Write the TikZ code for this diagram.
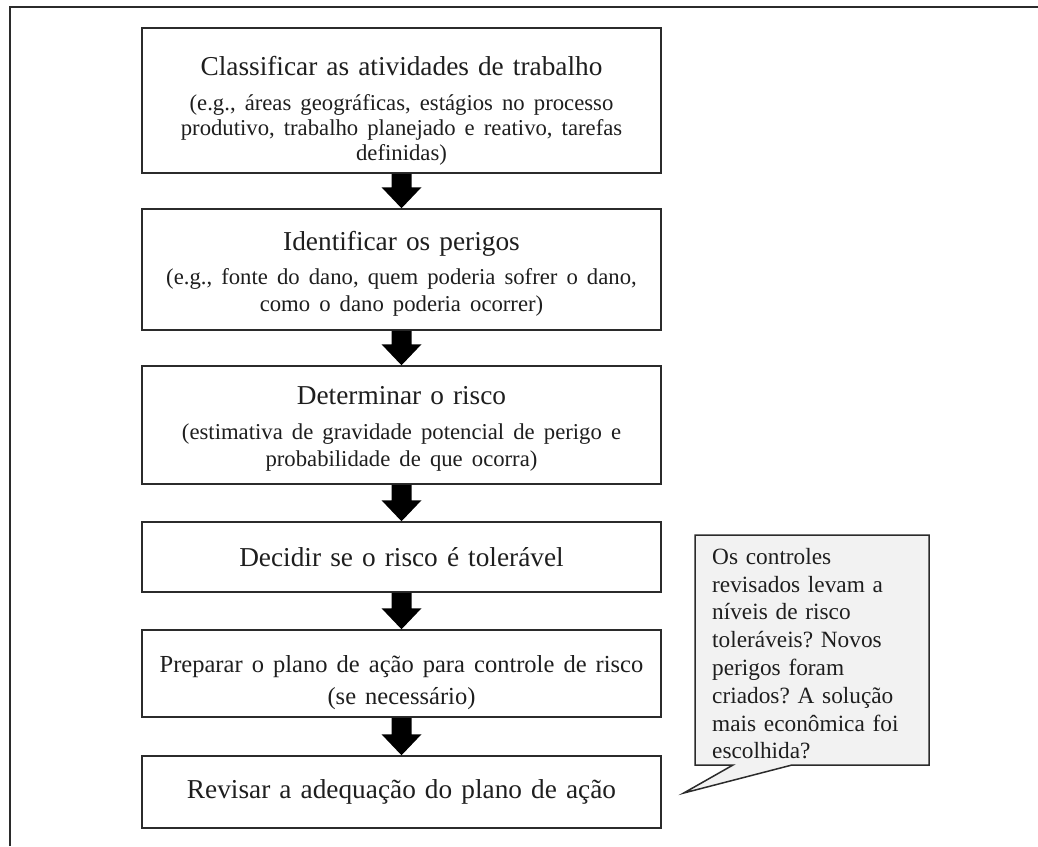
\documentclass[tikz,border=0pt]{standalone}
\usepackage{fontspec}
\setmainfont{Liberation Serif}
\usetikzlibrary{calc,backgrounds}

\definecolor{ink}{HTML}{1E1E1E}
\definecolor{rule}{HTML}{2B2B2B}
\definecolor{notefill}{HTML}{F2F2F2}

\newcommand\headfont{\fontsize{27.3}{31}\selectfont}
\newcommand\midfont{\fontsize{24.5}{32}\selectfont}
\newcommand\notefont{\fontsize{23.3}{27.8}\selectfont}

% step text: height of the first line, gap under the heading, line skip of the details, heading, details
\newcommand\steptext[5]{%
  \rule{0pt}{#1}#4\par\vspace{#2}%
  {\fontsize{22.7}{#3}\selectfont #5\par}}

% solid block arrow from the bottom of one step to the top of the next
\newcommand\flowarrow[2]{%
  \fill[arrowfill]
    ($(#1.south)+(-10,0)$) -- ($(#2.north)+(-10,-21)$) -- ($(#2.north)+(-20,-21)$)
    -- (#2.north)
    -- ($(#2.north)+(20,-21)$) -- ($(#2.north)+(10,-21)$) -- ($(#1.south)+(10,0)$) -- cycle;}

\frenchspacing
\begin{document}
\begin{tikzpicture}[x=1pt,y=-1pt,
  stepbox/.style={draw=rule, line width=1.5pt, fill=white, minimum width=519pt,
    text width=505pt, inner xsep=0pt, inner ysep=0pt, align=center, text=ink, font=\headfont},
  arrowfill/.style={fill=black},
  frameline/.style={draw=rule, line width=1.8pt},
  notebox/.style={draw=rule, line width=1.5pt, fill=notefill, line join=miter},
  notetext/.style={anchor=north west, inner xsep=17pt, inner ysep=13pt, text width=200pt,
    align=left, text=ink, font=\notefont}]
\useasboundingbox (0,0) rectangle (1038,846);

% page frame
\draw[frameline] (10,846) -- (10,7) -- (1038,7);

% process steps
\node[stepbox, minimum height=145pt] (b1) at (401.5,100.5)
  {\steptext{39pt}{10pt}{25pt}{Classificar as atividades de trabalho}
   {(e.g., áreas geográficas, estágios no processo\\
    produtivo, trabalho planejado e reativo, tarefas\\ definidas)}};
\node[stepbox, minimum height=121pt] (b2) at (401.5,269.5)
  {\steptext{27pt}{7pt}{27pt}{Identificar os perigos}
   {(e.g., fonte do dano, quem poderia sofrer o dano,\\
    como o dano poderia ocorrer)}};
\node[stepbox, minimum height=118pt] (b3) at (401.5,425)
  {\steptext{25pt}{8pt}{27pt}{Determinar o risco}
   {(estimativa de gravidade potencial de perigo e\\
    probabilidade de que ocorra)}};
\node[stepbox, minimum height=70pt] (b4) at (401.5,557)
  {Decidir se o risco é tolerável};
\node[stepbox, minimum height=87pt] (b5) at (401.5,673.5)
  {{\midfont\rule{0pt}{36pt}Preparar o plano de ação para controle de risco\\ (se necessário)\par}};
\node[stepbox, minimum height=72pt] (b6) at (401.5,792)
  {Revisar a adequação do plano de ação};

\flowarrow{b1}{b2}
\flowarrow{b2}{b3}
\flowarrow{b3}{b4}
\flowarrow{b4}{b5}
\flowarrow{b5}{b6}

% speech-bubble note pointing at the last step
\coordinate (nnw) at (695,535);
\coordinate (nse) at (929,765);
\coordinate (tip) at ($(b6.east)+(22,1)$);
\node[notetext] (note) at (nnw)
  {Os controles\\ revisados levam a\\ níveis de risco\\ toleráveis? Novos\\
   perigos foram\\ criados? A solução\\ mais econômica foi\\ escolhida?};
\begin{scope}[on background layer]
  \draw[notebox] (nnw) -- (nnw -| nse) -- (nse) -- ($(nse)+(-137,0)$) -- (tip)
    -- ($(nse)+(-196,0)$) -- (nnw |- nse) -- cycle;
\end{scope}
\end{tikzpicture}
\end{document}
